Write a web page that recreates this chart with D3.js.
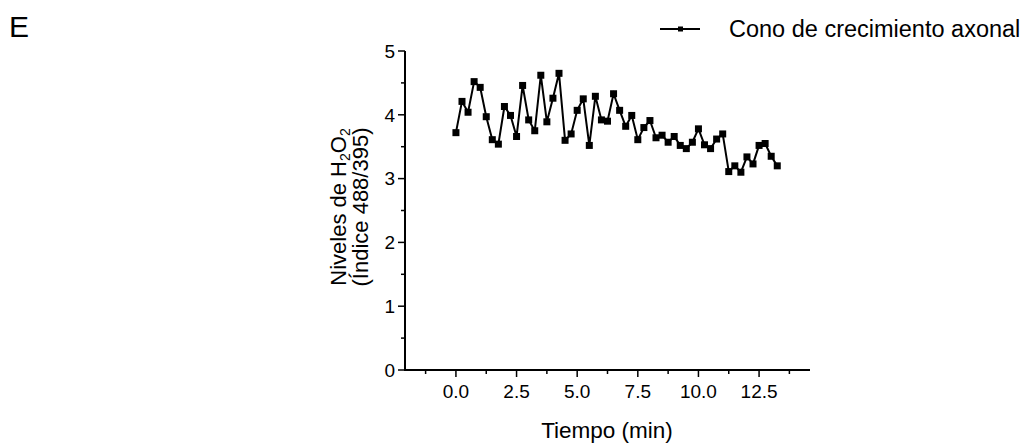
<!DOCTYPE html>
<html>
<head>
<meta charset="utf-8">
<script src="https://cdn.jsdelivr.net/npm/d3@7"></script>
<style>
  body { margin: 0; background: #fff; }
  text { font-family: "Liberation Sans", Arial, sans-serif; fill: #000; }
</style>
</head>
<body>
<div id="chart"></div>
<script>
// sampled every 15 s
const times = d3.range(54).map(i => i * 0.25);
const levels = [3.72, 4.21, 4.04, 4.52, 4.43, 3.97, 3.61, 3.54, 4.13, 3.99,
                3.66, 4.46, 3.92, 3.75, 4.62, 3.89, 4.26, 4.65, 3.60, 3.70,
                4.07, 4.25, 3.52, 4.29, 3.92, 3.90, 4.33, 4.07, 3.82, 3.99,
                3.61, 3.80, 3.91, 3.64, 3.68, 3.57, 3.66, 3.52, 3.47, 3.57,
                3.78, 3.53, 3.47, 3.62, 3.70, 3.11, 3.20, 3.10, 3.34, 3.23,
                3.52, 3.55, 3.35, 3.20];
const xTicks = [0, 2.5, 5, 7.5, 10, 12.5];
const yTicks = [0, 1, 2, 3, 4, 5];
const seriesName = "Cono de crecimiento axonal";

const width = 1031, height = 446;
const svg = d3.select("#chart").append("svg")
    .attr("width", width).attr("height", height);

const x = d3.scaleLinear().domain([-2.1, 14.6]).range([405, 810]);
const y = d3.scaleLinear().domain([0, 5]).range([370, 51]);

// panel letter
svg.append("text").attr("x", 9).attr("y", 37)
    .style("font-size", "30px").text("E");

// y axis
const yAxis = svg.append("g").attr("transform", "translate(405,0)");
yAxis.append("line").attr("y1", y(0)).attr("y2", y(5))
    .attr("stroke", "#000").attr("stroke-width", 2);
yAxis.selectAll(".ymaj").data(yTicks).enter().append("line")
    .attr("x1", -7).attr("x2", 0).attr("y1", d => y(d)).attr("y2", d => y(d))
    .attr("stroke", "#000").attr("stroke-width", 1.5);
yAxis.selectAll(".ymin").data(d3.range(0.5, 5, 1)).enter().append("line")
    .attr("x1", -4).attr("x2", 0).attr("y1", d => y(d)).attr("y2", d => y(d))
    .attr("stroke", "#000").attr("stroke-width", 1.5);
yAxis.selectAll(".ylab").data(yTicks).enter().append("text")
    .attr("x", -10).attr("y", d => y(d)).attr("dy", "0.36em")
    .attr("text-anchor", "end").style("font-size", "19px")
    .text(d => d);

// x axis
const xAxis = svg.append("g").attr("transform", "translate(0," + y(0) + ")");
xAxis.append("line").attr("x1", 404).attr("x2", x(14.6))
    .attr("stroke", "#000").attr("stroke-width", 2);
xAxis.selectAll(".xmaj").data(xTicks).enter().append("line")
    .attr("x1", d => x(d)).attr("x2", d => x(d)).attr("y1", 0).attr("y2", 7)
    .attr("stroke", "#000").attr("stroke-width", 1.5);
xAxis.selectAll(".xmin").data([-1.25, 1.25, 3.75, 6.25, 8.75, 11.25, 13.75]).enter().append("line")
    .attr("x1", d => x(d)).attr("x2", d => x(d)).attr("y1", 0).attr("y2", 4)
    .attr("stroke", "#000").attr("stroke-width", 1.5);
xAxis.selectAll(".xlab").data(xTicks).enter().append("text")
    .attr("x", d => x(d)).attr("y", 28)
    .attr("text-anchor", "middle").style("font-size", "19px")
    .text(d => d3.format(".1f")(d));

// axis titles
svg.append("text").attr("x", 607).attr("y", 438)
    .attr("text-anchor", "middle").style("font-size", "22.5px")
    .text("Tiempo (min)");

const yt = svg.append("g").attr("transform", "translate(0,207) rotate(-90)");
const l1 = yt.append("text").attr("x", 0).attr("y", 346)
    .attr("text-anchor", "middle").style("font-size", "22px");
l1.append("tspan").text("Niveles de H");
l1.append("tspan").attr("dy", 4).style("font-size", "14px").text("2");
l1.append("tspan").attr("dy", -4).text("O");
l1.append("tspan").attr("dy", 4).style("font-size", "14px").text("2");
yt.append("text").attr("x", 0).attr("y", 368)
    .attr("text-anchor", "middle").style("font-size", "22px")
    .text("(Índice 488/395)");

// series
const pts = times.map((t, i) => [t, levels[i]]);
svg.append("path").datum(pts)
    .attr("fill", "none").attr("stroke", "#000").attr("stroke-width", 2)
    .attr("d", d3.line().x(d => x(d[0])).y(d => y(d[1])));
svg.selectAll(".pt").data(pts).enter().append("rect")
    .attr("x", d => x(d[0]) - 3.5).attr("y", d => y(d[1]) - 3.5)
    .attr("width", 7).attr("height", 7).attr("fill", "#000");

// legend
const lg = svg.append("g").attr("transform", "translate(660,29)");
lg.append("line").attr("x1", 0).attr("x2", 40)
    .attr("stroke", "#000").attr("stroke-width", 2);
lg.append("rect").attr("x", 18).attr("y", -2.5).attr("width", 5).attr("height", 5).attr("fill", "#000");
lg.append("text").attr("x", 69).attr("y", 8).style("font-size", "23.5px").text(seriesName);
</script>
</body>
</html>
